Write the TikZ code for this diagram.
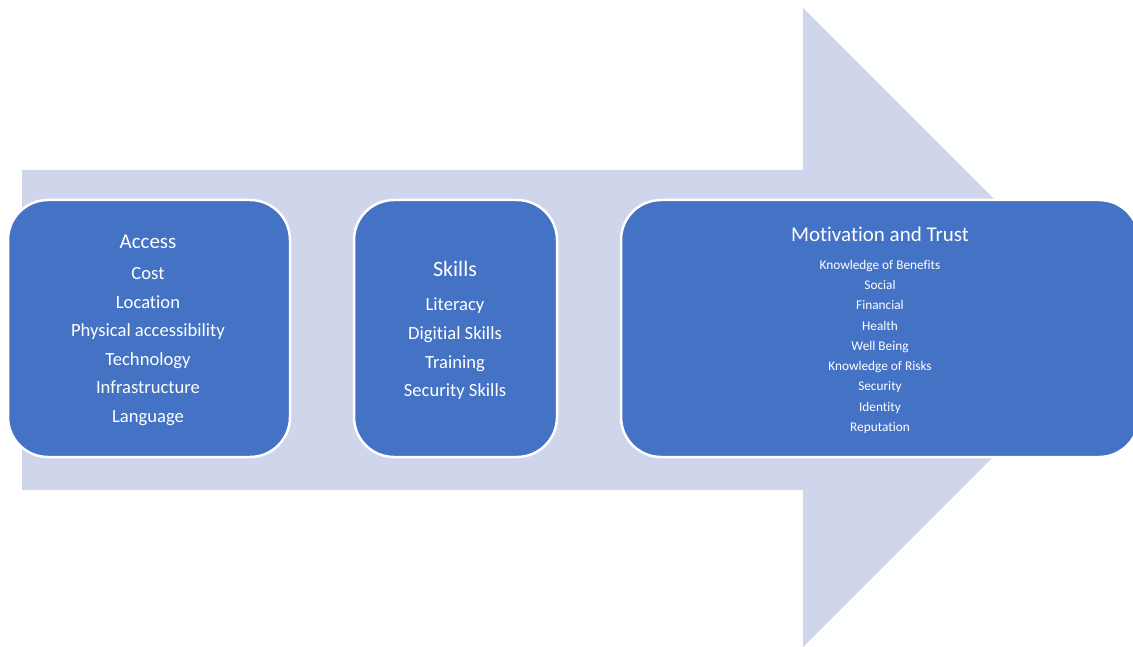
\documentclass[tikz,border=0pt]{standalone}
\usepackage{fontspec}
\setmainfont[RawFeature={-liga;-clig;-calt;-dlig;-rlig}]{Carlito}
\usetikzlibrary{positioning}
\definecolor{arrowfill}{HTML}{CFD5EA}
\definecolor{boxfill}{HTML}{4472C4}

\begin{document}
\begin{tikzpicture}[x=1pt, y=-1pt,
  box/.style={draw=white, line width=2.5pt, fill=boxfill, rounded corners=40pt, inner sep=0pt, minimum height=257pt},
  heading/.style={text=white, font=\fontsize{21}{25}\selectfont, inner sep=0pt, text height=0.66em, text depth=0pt},
  entry/.style={text=white, font=\fontsize{18.6}{22}\selectfont, inner sep=0pt, text height=0.66em, text depth=0pt},
  subentry/.style={text=white, font=\fontsize{13.3}{16}\selectfont, inner sep=0pt, text height=0.66em, text depth=0pt}]

  \useasboundingbox (0,0) rectangle (1133,647);

  % Background arrow
  \fill[arrowfill] (22,170) -- (803,170) -- (803,8) -- (1122.5,327.5) -- (803,647) -- (803,490) -- (22,490) -- cycle;

  % Define the three boxes
  \node[box, minimum width=282pt] (access) at (149,328.5) {};
  \node[box, minimum width=203pt] (skills) at (455.5,328.5) {};
  \node[box, minimum width=518pt] (trust) at (880,328.5) {};

  % Headings
  \node[heading] (accesstitle) at (148,245.5) {Access};
  \node[heading, font=\fontsize{22}{26}\selectfont] (skillstitle) at (455,273.5) {Skills};
  \node[heading] (trusttitle) at (880,238.5) {Motivation and Trust};

  % Entries
  \foreach \txt [count=\i from 0] in {Cost, Location, Physical accessibility, Technology, Infrastructure, Language}
    \node[entry] (access-\i) at (148,276.5+28.5*\i) {\txt};
  \foreach \txt [count=\i from 0] in {Literacy, Digitial Skills, Training, Security Skills}
    \node[entry] (skills-\i) at (455,307.5+28.7*\i) {\txt};
  \foreach \txt [count=\i from 0] in {Knowledge of Benefits, Social, Financial, Health, Well Being, Knowledge of Risks, Security, Identity, Reputation}
    \node[subentry] (trust-\i) at (880,266+20.25*\i) {\txt};
\end{tikzpicture}
\end{document}
